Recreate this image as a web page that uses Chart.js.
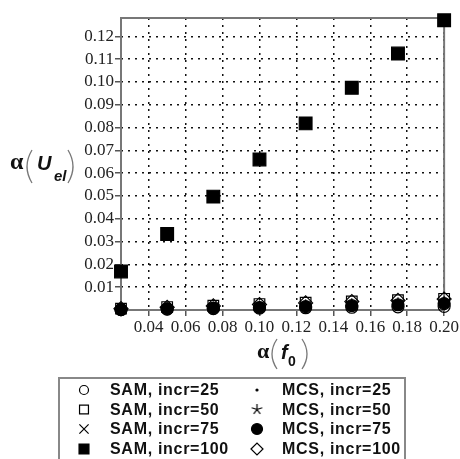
<!DOCTYPE html>
<html lang="en">
  <head>
    <meta charset="UTF-8" />
    <title>alpha(Uel) vs alpha(f0)</title>
    <script src="https://cdn.jsdelivr.net/npm/chart.js@4"></script>
    <style>
      body { margin: 0; background: #fff; }
      #wrap { width: 460px; height: 459px; }
    </style>
  </head>
  <body>
    <div id="wrap"><canvas id="myChart" width="460" height="459"></canvas></div>

    <script>
      // x values: alpha(f0)
      const alphaF0 = [0.025, 0.05, 0.075, 0.1, 0.125, 0.15, 0.175, 0.2];

      // alpha(Uel) series
      const sam25 = [0.0002, 0.0004, 0.0006, 0.0008, 0.001, 0.0012, 0.0014, 0.0016];
      const sam50 = [0.0006, 0.0013, 0.0019, 0.0026, 0.0032, 0.0038, 0.0043, 0.0049];
      const sam75 = [0.0003, 0.0007, 0.001, 0.0014, 0.0018, 0.0022, 0.0025, 0.0029];
      const sam100 = [0.0169, 0.0333, 0.0497, 0.066, 0.0818, 0.0974, 0.1124, 0.127];
      const mcs25 = [0.0002, 0.0004, 0.0006, 0.0008, 0.001, 0.0012, 0.0014, 0.0016];
      const mcs50 = [0.0004, 0.0009, 0.0013, 0.0018, 0.0023, 0.0028, 0.0032, 0.0037];
      const mcs75 = [0.0002, 0.0005, 0.0008, 0.0011, 0.0015, 0.0019, 0.0023, 0.0028];
      const mcs100 = [0.0006, 0.0012, 0.0018, 0.0024, 0.0031, 0.0037, 0.0042, 0.0048];

      const xTicks = [0.04, 0.06, 0.08, 0.1, 0.12, 0.14, 0.16, 0.18, 0.2];
      const yTicks = [0.01, 0.02, 0.03, 0.04, 0.05, 0.06, 0.07, 0.08, 0.09, 0.1, 0.11, 0.12];

      const pts = (ys) => ys.map((y, i) => ({ x: alphaF0[i], y: y }));

      // thin five-armed star used for MCS, incr=50
      function makeStar(size) {
        const c = document.createElement("canvas");
        c.width = size;
        c.height = size;
        const g = c.getContext("2d");
        const m = size / 2;
        const r = m - 1;
        g.strokeStyle = "#000";
        g.lineWidth = 1.2;
        g.beginPath();
        for (let k = 0; k < 5; k++) {
          const a = -Math.PI / 2 + (k * 2 * Math.PI) / 5;
          g.moveTo(m, m);
          g.lineTo(m + r * Math.cos(a), m + r * Math.sin(a));
        }
        g.stroke();
        return c;
      }
      const star = makeStar(13);

      // legend entries, in legend order (col 1 then col 2)
      const series = [
        { label: "SAM, incr=25", data: sam25, style: "circle", r: 6, fill: false, lr: 4.5 },
        { label: "SAM, incr=50", data: sam50, style: "rect", r: 7.5, fill: false, lr: 6.3 },
        { label: "SAM, incr=75", data: sam75, style: "crossRot", r: 6, fill: false, lr: 6.5 },
        { label: "SAM, incr=100", data: sam100, style: "rect", r: 9, fill: true, lr: 7 },
        { label: "MCS, incr=25", data: mcs25, style: "circle", r: 1.2, fill: true, lr: 1 },
        { label: "MCS, incr=50", data: mcs50, style: star, r: 6, fill: false, lr: 6 },
        { label: "MCS, incr=75", data: mcs75, style: "circle", r: 6, fill: true, lr: 5.5 },
        { label: "MCS, incr=100", data: mcs100, style: "rectRot", r: 7, fill: false, lr: 6 },
      ];

      const drawOrder = [0, 2, 4, 5, 1, 7, 6, 3];

      const datasets = drawOrder.map((i) => {
        const s = series[i];
        return {
          label: s.label,
          data: pts(s.data),
          pointStyle: s.style,
          pointRadius: s.r,
          pointHoverRadius: s.r,
          pointBackgroundColor: s.fill ? "#000" : "rgba(0,0,0,0)",
          pointBorderColor: "#000",
          pointBorderWidth: 1.2,
          showLine: false,
          clip: false,
        };
      });

      // thin round bracket, left or right
      function paren(ctx, x0, x1, top, bot, left) {
        const mid = (top + bot) / 2;
        ctx.beginPath();
        if (left) {
          ctx.moveTo(x1, top);
          ctx.quadraticCurveTo(2 * x0 - x1, mid, x1, bot);
        } else {
          ctx.moveTo(x0, top);
          ctx.quadraticCurveTo(2 * x1 - x0, mid, x0, bot);
        }
        ctx.stroke();
      }

      const extras = {
        id: "extras",
        beforeDatasetsDraw(chart) {
          const { ctx, chartArea: a } = chart;
          ctx.save();
          ctx.strokeStyle = "#777";
          ctx.lineWidth = 2;
          ctx.strokeRect(a.left, a.top, a.right - a.left, a.bottom - a.top);
          ctx.restore();
        },
        afterDraw(chart) {
          const ctx = chart.ctx;
          ctx.save();
          ctx.textAlign = "left";
          ctx.textBaseline = "alphabetic";

          // y axis title: alpha(U_el)
          ctx.fillStyle = "#111";
          ctx.font = 'bold 24px "Liberation Serif"';
          ctx.fillText("α", 10, 169);
          ctx.strokeStyle = "#777";
          ctx.lineWidth = 1.3;
          paren(ctx, 27, 32, 150, 183, true);
          ctx.font = 'italic bold 20px "Liberation Sans"';
          ctx.fillText("U", 37, 170);
          ctx.font = 'italic bold 15px "Liberation Sans"';
          ctx.fillText("el", 54, 181);
          paren(ctx, 68, 73, 150, 183, false);

          // x axis title: alpha(f_0)
          ctx.font = 'bold 22px "Liberation Serif"';
          ctx.fillText("α", 257, 358);
          paren(ctx, 272, 277, 339, 369, true);
          ctx.font = 'italic bold 20px "Liberation Sans"';
          ctx.fillText("f", 281, 359);
          ctx.font = 'bold 14px "Liberation Sans"';
          ctx.fillText("0", 288, 366);
          paren(ctx, 302, 307, 339, 369, false);

          // legend box
          ctx.strokeStyle = "#888";
          ctx.lineWidth = 2;
          ctx.strokeRect(59, 378, 346, 100);

          const rows = [390, 409.5, 429, 449];
          const cols = [
            { sx: 84, tx: 110 },
            { sx: 257, tx: 282 },
          ];
          ctx.font = 'bold 16px "Liberation Sans"';
          ctx.textBaseline = "middle";
          series.forEach((s, i) => {
            const c = cols[Math.floor(i / 4)];
            const y = rows[i % 4];
            ctx.fillStyle = s.fill ? "#000" : "rgba(0,0,0,0)";
            ctx.strokeStyle = "#000";
            ctx.lineWidth = 1.2;
            Chart.helpers.drawPoint(
              ctx,
              { pointStyle: s.style, radius: s.lr, rotation: 0, borderWidth: 1.2 },
              c.sx,
              y
            );
            ctx.fillStyle = "#111";
            ctx.letterSpacing = "0.7px";
            ctx.fillText(s.label, c.tx, y + 1);
            ctx.letterSpacing = "0px";
          });
          ctx.restore();
        },
      };

      const ctx = document.getElementById("myChart").getContext("2d");
      new Chart(ctx, {
        type: "scatter",
        data: { datasets: datasets },
        options: {
          responsive: false,
          animation: false,
          events: [],
          layout: { padding: { top: 18, right: 12, left: 0, bottom: 0 } },
          plugins: { legend: { display: false }, tooltip: { enabled: false } },
          scales: {
            x: {
              type: "linear",
              min: 0.025,
              max: 0.2,
              afterBuildTicks: (scale) => {
                scale.ticks = xTicks.map((v) => ({ value: v }));
              },
              afterFit: (scale) => {
                scale.height = 149;
              },
              grid: {
                color: "#111",
                lineWidth: 1.5,
                drawTicks: true,
                tickLength: 6,
                tickColor: "#555",
                tickWidth: 1.5,
              },
              border: { display: false, dash: [2, 5] },
              ticks: {
                padding: 1,
                color: "#222",
                maxRotation: 0,
                autoSkip: false,
                font: { family: "Liberation Serif", size: 17 },
                callback: (v) => v.toFixed(2),
              },
            },
            y: {
              type: "linear",
              min: 0,
              max: 0.128,
              afterBuildTicks: (scale) => {
                scale.ticks = yTicks.map((v) => ({ value: v }));
              },
              afterFit: (scale) => {
                scale.width = 121;
              },
              grid: {
                color: "#111",
                lineWidth: 1.5,
                drawTicks: true,
                tickLength: 6,
                tickColor: "#555",
                tickWidth: 1.5,
              },
              border: { display: false, dash: [2, 5] },
              ticks: {
                padding: 1,
                color: "#222",
                autoSkip: false,
                font: { family: "Liberation Serif", size: 17 },
                callback: (v) => v.toFixed(2),
              },
            },
          },
        },
        plugins: [extras],
      });
    </script>
  </body>
</html>
